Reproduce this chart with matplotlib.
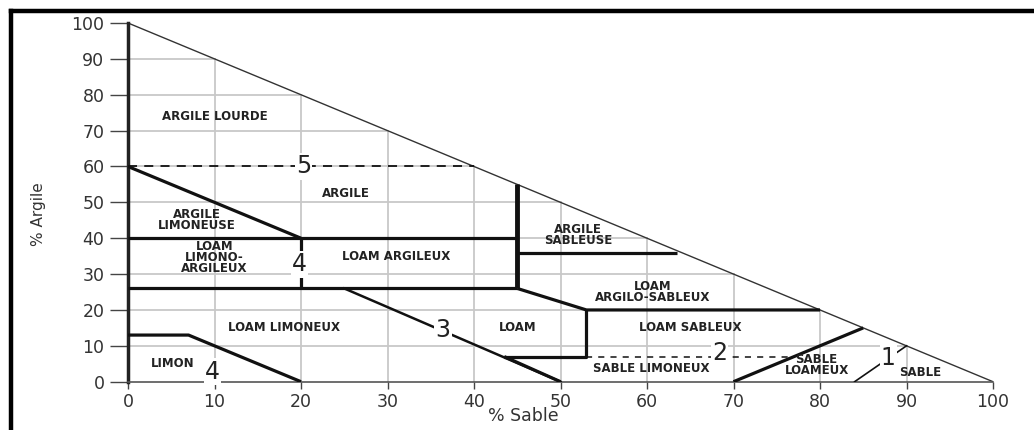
import matplotlib
matplotlib.use("Agg")
import matplotlib.pyplot as plt
from matplotlib.lines import Line2D

# axis ticks
ticks = [0, 10, 20, 30, 40, 50, 60, 70, 80, 90, 100]

# class boundaries (% sable, % argile)
hyp_x = [0, 100]
hyp_y = [100, 0]
b_arg_lim_x = [0, 20]
b_arg_lim_y = [60, 40]
b_40_x = [0, 45]
b_40_y = [40, 40]
b_20v_x = [20, 20]
b_20v_y = [40, 26]
b_26_x = [0, 45]
b_26_y = [26, 26]
b_45v_x = [45, 45]
b_45v_y = [26, 55]
b_36_x = [45, 63.5]
b_36_y = [36, 36]
b_loam_x = [45, 53, 80]
b_loam_y = [26, 20, 20]
b_53v_x = [53, 53, 43.5]
b_53v_y = [20, 7, 7]
b_3_x = [25, 50]
b_3_y = [26, 0]
b_3low_x = [43.5, 50]
b_3low_y = [7, 0]
b_limon_x = [0, 7, 20]
b_limon_y = [13, 13, 0]
b_sl_x = [70, 85]
b_sl_y = [0, 15]
b_1_x = [84, 90]
b_1_y = [0, 10]
d_60_x = [0, 40]
d_60_y = [60, 60]
d_7_x = [53, 77]
d_7_y = [7, 7]

# class names
names = ["ARGILE LOURDE", "ARGILE", "ARGILE\nLIMONEUSE", "LOAM\nLIMONO-\nARGILEUX",
         "LOAM ARGILEUX", "ARGILE\nSABLEUSE", "LOAM\nARGILO-SABLEUX", "LOAM LIMONEUX",
         "LOAM", "LOAM SABLEUX", "SABLE LIMONEUX", "SABLE\nLOAMEUX", "SABLE", "LIMON"]
names_x = [10, 25.2, 8, 10, 31, 52, 60.7, 18, 45, 65, 60.5, 79.6, 91.6, 5.2]
names_y = [74, 52.6, 45, 34.7, 35, 41, 25.1, 15, 15, 15, 3.7, 4.7, 2.5, 5.2]

# group numbers
nums = ["5", "4", "3", "2", "1", "4"]
nums_x = [20.3, 19.8, 36.4, 68.4, 87.9, 9.8]
nums_y = [60, 32.7, 14.4, 8, 6.6, 2.8]

fig = plt.figure(figsize=(10.34, 4.3), dpi=100)
ax = fig.add_axes([128 / 1034, 48.3 / 430, 865 / 1034, 358.7 / 430])
ax.set_xlim(0, 100)
ax.set_ylim(0, 100)

# grid clipped to triangle
for t in ticks[1:-1]:
    ax.plot([t, t], [0, 100 - t], color="#c8c8c8", lw=1.3, zorder=1)
    ax.plot([0, 100 - t], [t, t], color="#c8c8c8", lw=1.3, zorder=1)

ax.plot(hyp_x, hyp_y, color="#333333", lw=1.0, zorder=2)

thick = dict(color="#111111", lw=2.3, zorder=3, solid_capstyle="butt")
for xs, ys in [(b_arg_lim_x, b_arg_lim_y), (b_40_x, b_40_y), (b_20v_x, b_20v_y),
               (b_26_x, b_26_y), (b_36_x, b_36_y), (b_loam_x, b_loam_y),
               (b_53v_x, b_53v_y), (b_3low_x, b_3low_y), (b_limon_x, b_limon_y),
               (b_sl_x, b_sl_y)]:
    ax.plot(xs, ys, **thick)
ax.plot(b_45v_x, b_45v_y, color="#111111", lw=3.5, zorder=3, solid_capstyle="butt")
ax.plot(b_3_x, b_3_y, color="#111111", lw=1.8, zorder=3)
ax.plot(b_1_x, b_1_y, color="#111111", lw=1.2, zorder=3)
ax.plot(d_60_x, d_60_y, color="#111111", lw=1.3, ls=(0, (5, 4)), zorder=3)
ax.plot(d_7_x, d_7_y, color="#111111", lw=1.1, ls=(0, (4, 4)), zorder=3)

for s, x, y in zip(names, names_x, names_y):
    ax.text(x, y, s, ha="center", va="center", fontsize=8.5, fontweight="bold",
            color="#222222", linespacing=0.8, zorder=5)

for s, x, y in zip(nums, nums_x, nums_y):
    ax.text(x, y, s, ha="center", va="center", fontsize=17, color="#222222", zorder=5,
            bbox=dict(boxstyle="square,pad=0.05", fc="white", ec="none"))

for side in ["top", "right"]:
    ax.spines[side].set_visible(False)
ax.spines["left"].set_linewidth(2.5)
ax.spines["left"].set_color("#222222")
ax.spines["bottom"].set_linewidth(1.2)
ax.spines["bottom"].set_color("#555555")

ax.set_xticks(ticks)
ax.set_yticks(ticks)
ax.tick_params(axis="y", length=13, width=1, color="#444444", labelsize=12.5,
               labelcolor="#333333", pad=4)
ax.tick_params(axis="x", length=5, width=1, color="#444444", labelsize=12.5,
               labelcolor="#333333", pad=3)

fig.text(38 / 1034, 1 - 214 / 430, "% Argile", rotation=90, ha="center", va="center",
         fontsize=11, color="#333333")
fig.text(523 / 1034, 1 - 416 / 430, "% Sable", ha="center", va="center",
         fontsize=12.5, color="#333333")

# frame lines on top and left of the picture
fig.add_artist(Line2D([10.5 / 1034, 1], [1 - 10.5 / 430, 1 - 10.5 / 430],
                      color="black", lw=3.2, transform=fig.transFigure))
fig.add_artist(Line2D([10.5 / 1034, 10.5 / 1034], [0, 1 - 10.5 / 430],
                      color="black", lw=3.2, transform=fig.transFigure))

fig.savefig("out.png", dpi=100)
